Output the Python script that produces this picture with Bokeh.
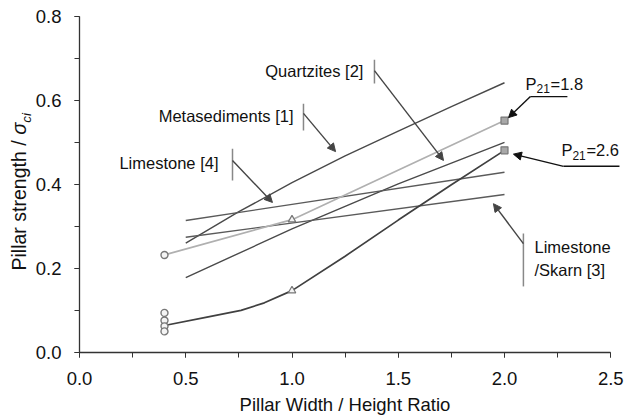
from math import pi
from bokeh.plotting import figure
from bokeh.models import (Label, Arrow, NormalHead, Range1d, SingleIntervalTicker,
                          NumeralTickFormatter)
from bokeh.embed import file_html
from bokeh.resources import INLINE

# ---------------- data ----------------
x_metased = [0.5, 0.75, 1.0, 1.25, 1.5, 1.75, 2.0]
y_metased = [0.261, 0.336, 0.405, 0.469, 0.528, 0.586, 0.643]

x_quartz = [0.5, 1.0, 1.5, 2.0]
y_quartz = [0.179, 0.295, 0.402, 0.501]

x_lime4 = [0.5, 2.0]
y_lime4 = [0.315, 0.430]

x_skarn = [0.5, 2.0]
y_skarn = [0.275, 0.377]

x_p18 = [0.4, 1.0, 2.0]
y_p18 = [0.233, 0.317, 0.553]

x_p26 = [0.4, 0.6, 0.76, 0.87, 1.0, 1.25, 1.5, 1.75, 2.0]
y_p26 = [0.065, 0.085, 0.101, 0.119, 0.148, 0.230, 0.316, 0.400, 0.482]

x_circles = [0.4, 0.4, 0.4, 0.4, 0.4]
y_circles = [0.233, 0.095, 0.077, 0.063, 0.051]
x_triangles = [1.0, 1.0]
y_triangles = [0.317, 0.148]
x_squares = [2.0, 2.0]
y_squares = [0.553, 0.482]

x_axis_bounds = (0.0, 2.5)
y_axis_bounds = (0.0, 0.8)
x_ticks_interval = 0.5
y_ticks_interval = 0.2

# annotation texts
lbl_quartz = "Quartzites [2]"
lbl_metased = "Metasediments [1]"
lbl_lime4 = "Limestone [4]"
lbl_skarn = ["Limestone", "/Skarn [3]"]
x_title = "Pillar Width / Height Ratio"
y_title = ["Pillar strength / ", "σ", "ci"]

FONT = "Liberation Sans"
TXT = "#111111"

# ---------------- layout: frame covers the canvas, axes fixed at 0 ----------------
W, H = 624, 418
X0_PX, PX_PER_X = 79.0, 212.5      # page x of data x=0, pixels per unit x
Y0_PX, PX_PER_Y = 352.3, 420.0     # page y of data y=0, pixels per unit y

p = figure(width=W, height=H, output_backend="svg", toolbar_location=None, title=None,
           x_range=Range1d(-X0_PX / PX_PER_X, (W - X0_PX) / PX_PER_X),
           y_range=Range1d((Y0_PX - H) / PX_PER_Y, Y0_PX / PX_PER_Y),
           min_border=0)
p.outline_line_color = None
p.grid.visible = False
p.background_fill_color = "white"
p.border_fill_color = "white"

for ax, interval, bounds in ((p.xaxis, x_ticks_interval, x_axis_bounds),
                             (p.yaxis, y_ticks_interval, y_axis_bounds)):
    ax.ticker = SingleIntervalTicker(interval=interval, num_minor_ticks=2)
    ax.formatter = NumeralTickFormatter(format="0.0")
    ax.bounds = bounds
    ax.fixed_location = 0
    ax.axis_line_color = "#333333"
    ax.axis_line_width = 1.3
    ax.major_tick_line_color = "#333333"
    ax.minor_tick_line_color = "#333333"
    ax.major_tick_out = 5
    ax.major_tick_in = 0
    ax.minor_tick_out = 5
    ax.minor_tick_in = 0
    ax.major_label_text_font = FONT
    ax.major_label_text_font_size = "18.5px"
    ax.major_label_text_color = TXT

p.xaxis.major_label_standoff = 14
p.yaxis.major_label_standoff = 13
p.xaxis.axis_label = x_title
p.xaxis.axis_label_text_font = FONT
p.xaxis.axis_label_text_font_size = "18.5px"
p.xaxis.axis_label_text_font_style = "normal"
p.xaxis.axis_label_text_color = TXT
p.xaxis.axis_label_standoff = 6

# ---------------- lines ----------------
p.line(x_metased, y_metased, line_color="#4a4a4a", line_width=1.4)
p.line(x_quartz, y_quartz, line_color="#4a4a4a", line_width=1.4)
p.line(x_lime4, y_lime4, line_color="#5a5a5a", line_width=1.4)
p.line(x_skarn, y_skarn, line_color="#5a5a5a", line_width=1.4)
p.line(x_p18, y_p18, line_color="#b0b0b0", line_width=1.7)
p.line(x_p26, y_p26, line_color="#404040", line_width=1.7)

# ---------------- markers ----------------
p.scatter(x_circles, y_circles, marker="circle", size=7, line_color="#777777",
          fill_color="#f4f4f4", line_width=1.4)
p.scatter(x_triangles, y_triangles, marker="triangle", size=7.5, line_color="#777777",
          fill_color="#f4f4f4", line_width=1.2)
p.scatter(x_squares, y_squares, marker="square", size=7, line_color="#777777",
          fill_color="#a8a8a8", line_width=1.2)

# ---------------- annotations ----------------
def label(x, y, text, align="left", size="16.5px", style="normal", xo=0, yo=0, angle=0):
    p.add_layout(Label(x=x, y=y, text=text, text_align=align, text_baseline="middle",
                       text_font=FONT, text_font_size=size, text_font_style=style,
                       text_color=TXT, x_offset=xo, y_offset=yo, angle=angle))

def bar(x0, y0, x1, y1, color="#888888", width=1.5):
    p.add_layout(Arrow(x_start=x0, y_start=y0, x_end=x1, y_end=y1, end=None,
                       line_color=color, line_width=width))

def arrow(x0, y0, x1, y1, color="#444444", width=1.4):
    p.add_layout(Arrow(x_start=x0, y_start=y0, x_end=x1, y_end=y1,
                       end=NormalHead(size=8, fill_color=color, line_color=color),
                       line_color=color, line_width=width))

# Quartzites [2]
label(1.336, 0.670, lbl_quartz, align="right")
bar(1.388, 0.698, 1.388, 0.641)
arrow(1.388, 0.672, 1.713, 0.458)

# Metasediments [1]
label(1.007, 0.565, lbl_metased, align="right")
bar(1.054, 0.593, 1.054, 0.529)
arrow(1.054, 0.570, 1.205, 0.479)

# Limestone [4]
label(0.654, 0.453, lbl_lime4, align="right")
bar(0.720, 0.486, 0.720, 0.410)
arrow(0.720, 0.458, 0.908, 0.358)

# Limestone /Skarn [3]
label(2.141, 0.251, lbl_skarn[0])
label(2.141, 0.196, lbl_skarn[1])
bar(2.089, 0.284, 2.089, 0.158)
arrow(2.089, 0.260, 1.948, 0.355)

# P21 = 1.8
label(2.099, 0.641, "P")
label(2.099, 0.641, "21", size="12px", xo=11, yo=-5)
label(2.099, 0.641, "=1.8", xo=25)
bar(2.122, 0.610, 2.296, 0.610, color="#111111", width=1.4)
arrow(2.122, 0.610, 2.019, 0.560, color="#111111")

# P21 = 2.6
label(2.268, 0.482, "P")
label(2.268, 0.482, "21", size="12px", xo=11, yo=-5)
label(2.268, 0.482, "=2.6", xo=25)
bar(2.278, 0.444, 2.541, 0.444, color="#111111", width=1.4)
arrow(2.278, 0.444, 2.042, 0.473, color="#111111")

# y-axis title: "Pillar strength / σ_ci"
label(-0.2847, 0.196, y_title[0], size="19.5px", angle=pi / 2)
label(-0.2847, 0.519, y_title[1], size="20px", style="italic", angle=pi / 2)
label(-0.2847, 0.548, y_title[2], size="13.5px", style="italic", angle=pi / 2, xo=7)

open("out.html", "w").write(file_html(p, INLINE))
